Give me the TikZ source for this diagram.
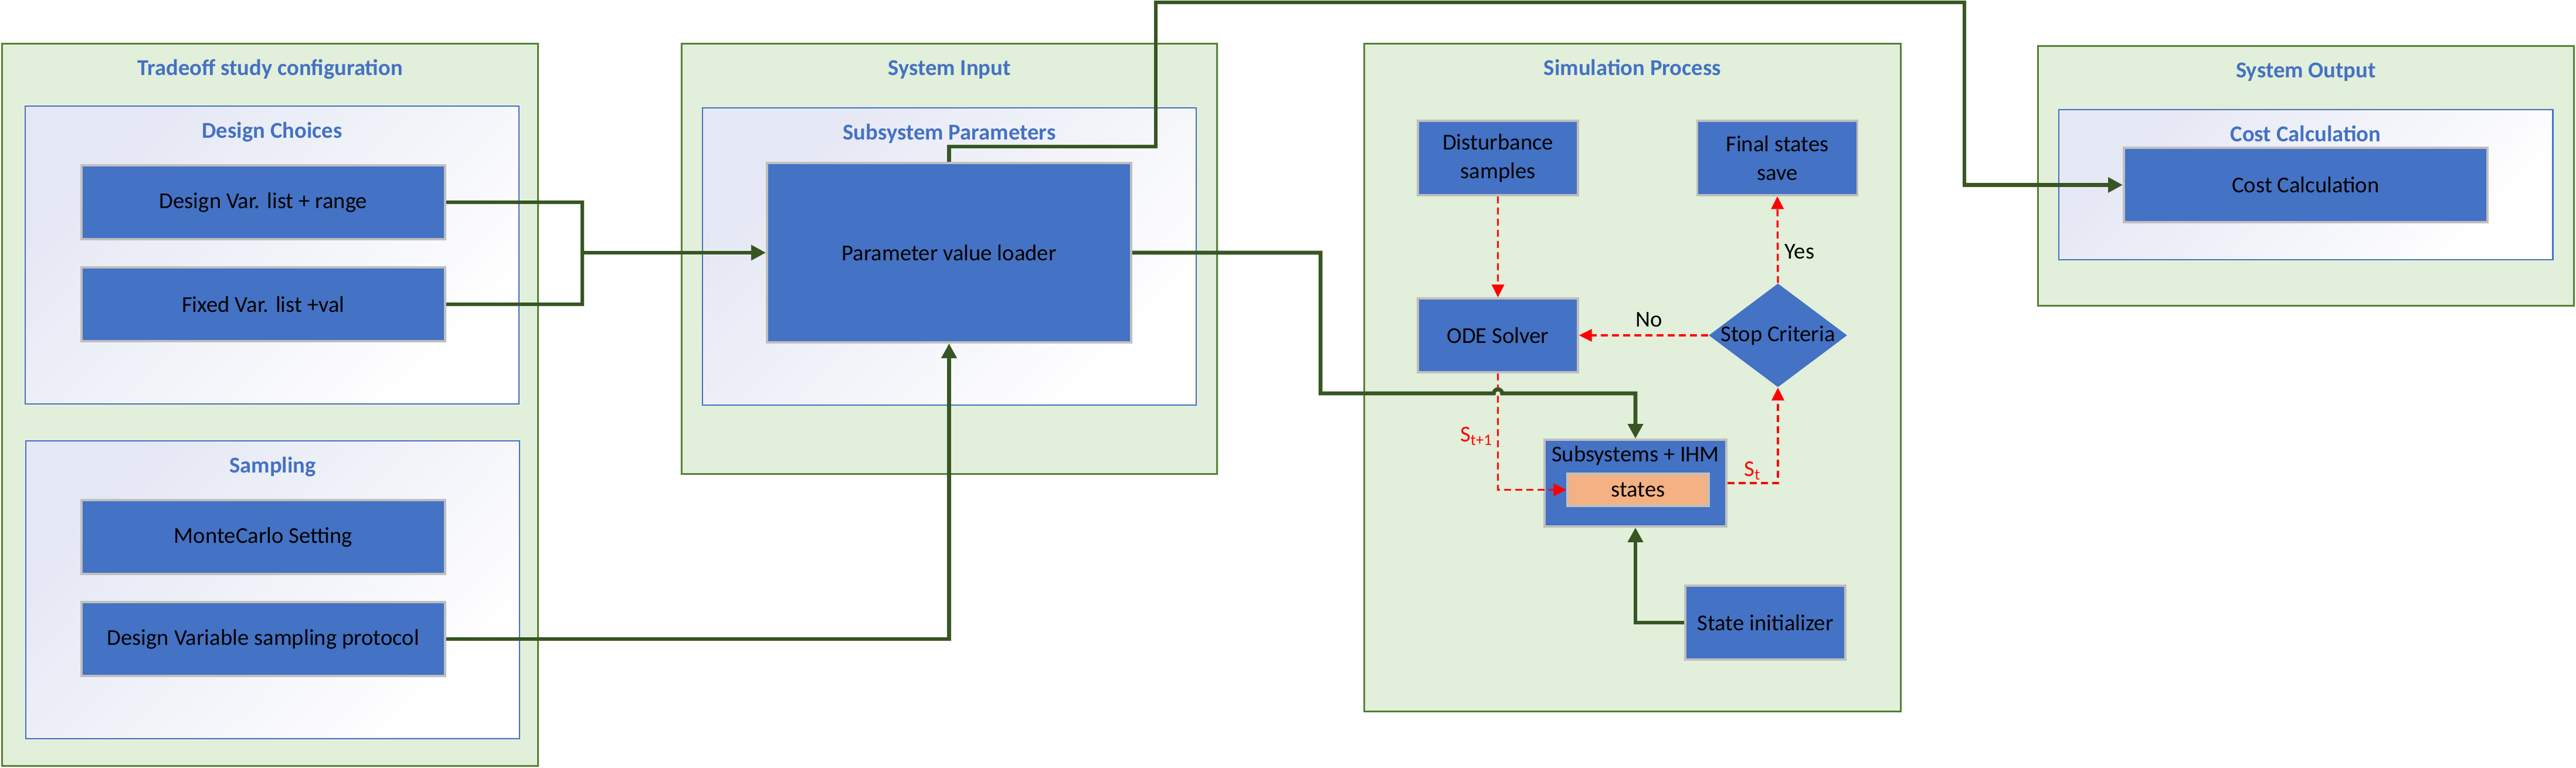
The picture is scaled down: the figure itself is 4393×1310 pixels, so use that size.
\documentclass[tikz,border=0pt]{standalone}
\usepackage{fontspec}
\setmainfont{Carlito}
\usepackage{tikz}
\usetikzlibrary{arrows.meta}
\usetikzlibrary{positioning}
\usetikzlibrary{shapes.geometric}
\definecolor{boxblue}{HTML}{4472C4}
\definecolor{boxgray}{HTML}{BFBFBF}
\definecolor{groupfill}{HTML}{E2EFDA}
\definecolor{groupline}{HTML}{548235}
\definecolor{flowgreen}{HTML}{375623}
\definecolor{panelfill}{HTML}{E4E7F4}
\definecolor{statefill}{HTML}{F4B183}

\begin{document}
\begin{tikzpicture}[x=0.01cm,y=-0.01cm,
  every node/.style={font=\fontsize{11}{14}\selectfont},
  groupbox/.style={rectangle,fill=groupfill,draw=groupline,line width=0.9pt,inner sep=0pt},
  panelbox/.style={rectangle,top color=panelfill,bottom color=white,shading angle=45,draw=boxblue,line width=0.7pt,inner sep=0pt,minimum width=8.42cm},
  boxtitle/.style={font=\fontsize{11}{14}\selectfont\bfseries,text=boxblue,inner sep=0pt,text height=8pt,text depth=2pt},
  procbox/.style={rectangle,fill=boxblue,draw=boxgray,line width=1pt,inner sep=0pt,minimum width=6.2cm,minimum height=1.26cm,align=center},
  smallbox/.style={procbox,minimum width=2.73cm},
  greenline/.style={draw=flowgreen,line width=1.9pt},
  greenflow/.style={greenline,-{Triangle[length=7.1pt,width=7.1pt]}},
  redflow/.style={draw=red,line width=0.95pt,dash pattern=on 3.4pt off 2pt,-{Triangle[length=6.2pt,width=6pt]}}]

  \useasboundingbox (0,0) rectangle (4393,1310);

  % outer groups
  \node[groupbox,minimum width=9.13cm,minimum height=12.31cm] (trade) at (460.5,690.5) {};
  \node[groupbox,minimum width=9.12cm,minimum height=7.33cm] (sysin) at (1619,441.5) {};
  \node[groupbox,minimum width=9.14cm,minimum height=11.38cm] (simproc) at (2784,644) {};
  \node[groupbox,minimum width=9.13cm,minimum height=4.42cm] (sysout) at (3932.5,300) {};

  \node[boxtitle,below=7.6pt of trade.north] (tradetitle) {Tradeoff study configuration};
  \node[boxtitle,below=7.6pt of sysin.north] (sysintitle) {System Input};
  \node[boxtitle,below=7.6pt of simproc.north] (simproctitle) {Simulation Process};
  \node[boxtitle,below=7.6pt of sysout.north] (sysouttitle) {System Output};

  % panels
  \node[panelbox,minimum height=5.08cm] (choices) at (464,435) {};
  \node[panelbox,minimum height=5.08cm] (sampling) at (465,1006) {};
  \node[panelbox,minimum height=5.07cm] (subpar) at (1619,437.5) {};
  \node[panelbox,minimum height=2.56cm] (costpanel) at (3932,315) {};

  \node[boxtitle,below=7.6pt of choices.north] (choicestitle) {Design Choices};
  \node[boxtitle,below=7.6pt of sampling.north] (samplingtitle) {Sampling};
  \node[boxtitle,below=7.6pt of subpar.north] (subpartitle) {Subsystem Parameters};
  \node[boxtitle,below=7.6pt of costpanel.north] (costtitle) {Cost Calculation};

  % blocks
  \foreach \n/\t/\y in {dvar/Design Var. list + range/345, fvar/Fixed Var. list +val/519,
                        mc/MonteCarlo Setting/916, dvsp/Design Variable sampling protocol/1090}{
    \node[procbox] (\n) at (449,\y) {\t};
  }
  \node[procbox,minimum width=6.21cm,minimum height=3.06cm] (loader) at (1618.5,431) {Parameter value loader};
  \node[smallbox,minimum height=1.27cm] (dist) at (2554.5,269.5) {Disturbance\\samples};
  \node[smallbox,minimum height=1.27cm] (final) at (3031,269.5) {Final states\\save};
  \node[smallbox] (ode) at (2554.5,572) {ODE Solver};
  \node[diamond,fill=boxblue,minimum width=2.36cm,minimum height=1.77cm,inner sep=0pt,
        label=center:Stop Criteria] (stop) at (3032,572) {};
  \node[procbox,minimum width=3.1cm,minimum height=1.48cm,
        label={[anchor=north,inner sep=0pt,text height=8pt,text depth=2pt,yshift=-3pt]north:Subsystems + IHM}] (subs) at (2789,824) {};
  \node[procbox,fill=statefill,minimum width=2.41cm,minimum height=0.55cm] (states) at (2793.5,835.5) {states};
  \node[smallbox] (init) at (3010.5,1062) {State initializer};
  \node[procbox,minimum height=1.27cm] (cost) at (3932,315.5) {Cost Calculation};

  % connectors
  \coordinate (join) at (993,431);
  \coordinate (up1) at (1971,250);
  \coordinate (up2) at (3350,4);
  \coordinate (down1) at (2252,671);
  \coordinate (hop) at (ode.south |- down1);

  \path (dist.south) edge[redflow] (ode.north);
  \path (stop.north) edge[redflow] node[right,pos=0.36,inner sep=3pt] (yes) {Yes} (final.south);
  \path (stop.west) edge[redflow] node[above,pos=0.46,inner sep=3.7pt] (no) {No} (ode.east);
  \draw[redflow] (ode.south) |- node[left,pos=0.27,text=red,inner sep=2pt] (snext) {S\textsubscript{t+1}} (states.west);
  \draw[redflow] (subs.east) -| node[above,pos=0.25,text=red,inner sep=1pt] (snow) {S\textsubscript{t}} (stop.south);

  \draw[greenline] (dvar.east) -| (join) |- (fvar.east);
  \path (join) edge[greenflow] (loader.west);
  \draw[greenflow] (dvsp.east) -| (loader.south);
  \draw[greenflow] (loader.north) |- (up1) |- (up2) |- (cost.west);
  \draw[greenflow] (loader.east) -| (down1) -- ([xshift=-0.07cm]hop)
    arc[start angle=180,end angle=0,radius=0.07cm] -| (subs.north);
  \draw[greenflow] (init.west) -| (subs.south);
\end{tikzpicture}
\end{document}
